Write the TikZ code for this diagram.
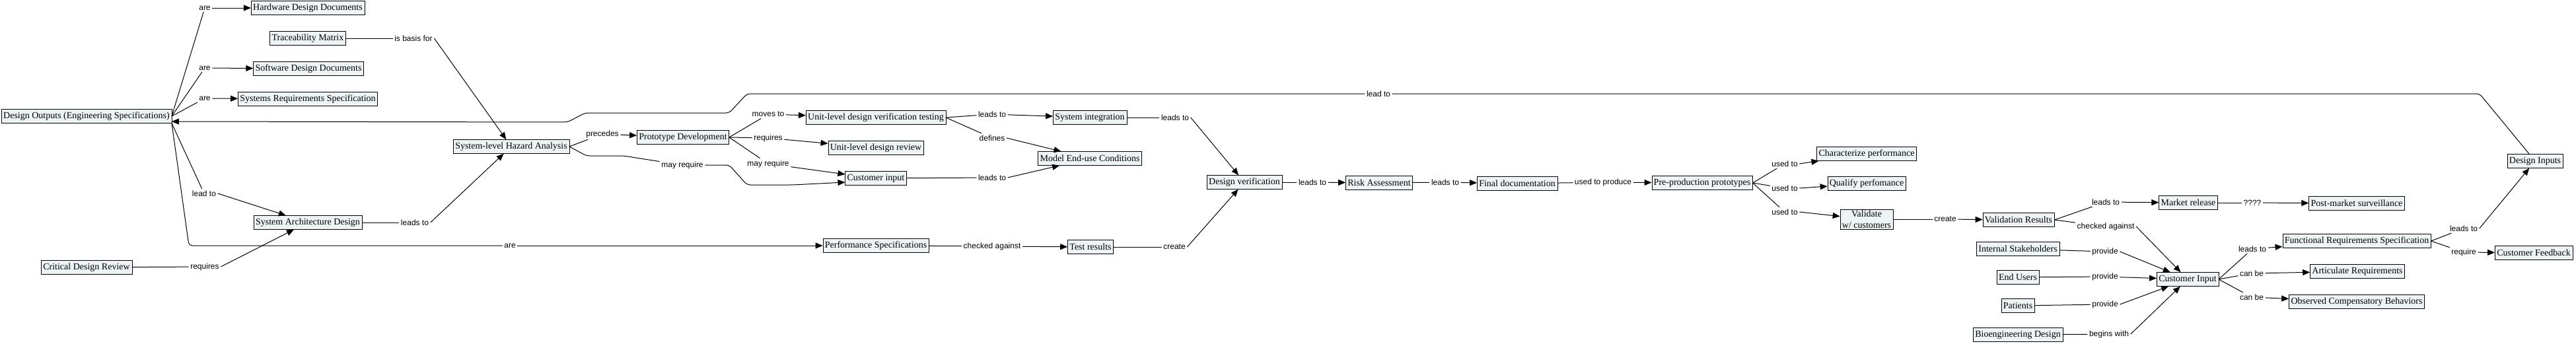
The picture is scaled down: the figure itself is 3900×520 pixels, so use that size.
\documentclass[tikz,border=0pt]{standalone}
\usepackage{fontspec}
\setmainfont{Liberation Serif}
\newfontfamily\linkfont{Liberation Sans}
\usepackage{tikz}
\usetikzlibrary{arrows.meta,positioning,calc}
\definecolor{conceptfill}{RGB}{238,244,246}

\begin{document}
\begin{tikzpicture}[
  x=1pt, y=-1pt,
  concept/.style={draw, rectangle, fill=conceptfill, minimum height=21pt,
                  inner xsep=3pt, inner ysep=2pt, align=center,
                  font=\fontsize{14}{16.5}\selectfont},
  phrase/.style={inner sep=2.5pt, font=\linkfont\fontsize{12}{14}\selectfont},
  tie/.style={line width=1pt},
  rel/.style={-{Triangle[length=11pt,width=9pt]}, line width=1pt},
  bent/.style={rounded corners=5pt}
]
\useasboundingbox (0,0) rectangle (3900,520);

% Concepts
\node[concept] (dout)  at (131,176)  {Design Outputs (Engineering Specifications)};
\node[concept] (hdd)   at (466,12)   {Hardware Design Documents};
\node[concept] (tm)    at (466,58)   {Traceability Matrix};
\node[concept] (sdd)   at (467,104)  {Software Design Documents};
\node[concept] (srs)   at (466,150)  {Systems Requirements Specification};
\node[concept] (sad)   at (466,337)  {System Architecture Design};
\node[concept] (cdr)   at (131,405)  {Critical Design Review};
\node[concept] (sha)   at (774,222)  {System-level Hazard Analysis};
\node[concept] (proto) at (1034,208) {Prototype Development};
\node[concept] (udvt)  at (1326,178) {Unit-level design verification testing};
\node[concept] (udr)   at (1326,224) {Unit-level design review};
\node[concept] (cin)   at (1326,270) {Customer input};
\node[concept] (pspec) at (1326,372) {Performance Specifications};
\node[concept] (sint)  at (1650,178) {System integration};
\node[concept] (meuc)  at (1650,240) {Model End-use Conditions};
\node[concept] (tres)  at (1651,374) {Test results};
\node[concept] (dver)  at (1884,276) {Design verification};
\node[concept] (risk)  at (2088,277) {Risk Assessment};
\node[concept] (fdoc)  at (2297,278) {Final documentation};
\node[concept] (ppp)   at (2577,277) {Pre-production prototypes};
\node[concept] (charp) at (2826,233) {Characterize performance};
\node[concept] (qualp) at (2826,278) {Qualify perfomance};
\node[concept] (valc)  at (2826,332) {Validate\\w/ customers};
\node[concept] (vres)  at (3056,333) {Validation Results};
\node[concept] (intst) at (3055,377) {Internal Stakeholders};
\node[concept] (endu)  at (3055,420) {End Users};
\node[concept] (pat)   at (3055,463) {Patients};
\node[concept] (bioe)  at (3055,507) {Bioengineering Design};
\node[concept] (mrel)  at (3313,307) {Market release};
\node[concept] (pms)   at (3568,308) {Post-market surveillance};
\node[concept] (cinp)  at (3312,423) {Customer Input};
\node[concept] (frs)   at (3568,365) {Functional Requirements Specification};
\node[concept] (artr)  at (3569,411) {Articulate Requirements};
\node[concept] (ocb)   at (3568,457) {Observed Compensatory Behaviors};
\node[concept] (din)   at (3838,244) {Design Inputs};
\node[concept] (cfb)   at (3836,383) {Customer Feedback};

% Linking phrases
\node[phrase] (p1)  at (310,12)   {are};
\node[phrase] (p2)  at (310,103)  {are};
\node[phrase] (p3)  at (310,149)  {are};
\node[phrase] (p4)  at (309,293)  {lead to};
\node[phrase] (p5)  at (310,404)  {requires};
\node[phrase] (p6)  at (772,372)  {are};
\node[phrase] (p7)  at (626,58)   {is basis for};
\node[phrase] (p8)  at (628,337)  {leads to};
\node[phrase] (p9)  at (912,203)  {precedes};
\node[phrase] (p10) at (1033,250) {may require};
\node[phrase] (p11) at (1163,173) {moves to};
\node[phrase] (p12) at (1163,209) {requires};
\node[phrase] (p13) at (1163,248) {may require};
\node[phrase] (p14) at (1502,173) {leads to};
\node[phrase] (p15) at (1502,209) {defines};
\node[phrase] (p16) at (1502,269) {leads to};
\node[phrase] (p17) at (1502,373) {checked against};
\node[phrase] (p18) at (1779,178) {leads to};
\node[phrase] (p19) at (1778,374) {create};
\node[phrase] (p20) at (1987,276) {leads to};
\node[phrase] (p21) at (2188,276) {leads to};
\node[phrase] (p22) at (2427,276) {used to produce};
\node[phrase] (p23) at (2702,248) {used to};
\node[phrase] (p24) at (2702,285) {used to};
\node[phrase] (p25) at (2702,321) {used to};
\node[phrase] (p26) at (2945,332) {create};
\node[phrase] (p27) at (3188,306) {leads to};
\node[phrase] (p28) at (3188,343) {checked against};
\node[phrase] (p29) at (3187,381) {provide};
\node[phrase] (p30) at (3187,419) {provide};
\node[phrase] (p31) at (3187,461) {provide};
\node[phrase] (p32) at (3193,506) {begins with};
\node[phrase] (p33) at (3410,307) {????};
\node[phrase] (p34) at (3410,377) {leads to};
\node[phrase] (p35) at (3409,414) {can be};
\node[phrase] (p36) at (3409,450) {can be};
\node[phrase] (p37) at (3730,346) {leads to};
\node[phrase] (p38) at (3730,382) {require};
\node[phrase] (p39) at (2087,142) {lead to};

% Design outputs
\draw[tie] (dout.east) -- (p1);  \draw[rel] (p1) -- (hdd);
\draw[tie] (dout.east) -- (p2);  \draw[rel] (p2) -- (sdd);
\draw[tie] (dout.east) -- (p3);  \draw[rel] (p3) -- (srs);
\draw[tie] (dout.south east) -- (p4);  \draw[rel] (p4.east) -- (sad);
\draw[tie, bent] (dout.south east) -- (286,372) -- (p6);  \draw[rel] (p6) -- (pspec);
\draw[tie] (cdr) -- (p5);  \draw[rel] (p5.east) -- (sad);

% Hazard analysis and prototypes
\draw[tie] (tm) -- (p7);  \draw[rel] (p7.east) -- (sha);
\draw[tie] (sad) -- (p8);  \draw[rel] (p8.east) -- (sha);
\draw[tie] (sha.east) -- (p9);  \draw[rel] (p9) -- (proto);
\draw[tie, bent] (sha.east) -- (888,236) -- (944,236) -- (p10);
\draw[rel, bent] (p10) -- (1104,250) -- (1131,280) -- (1201,280) -- ($(cin.west)+(0,6)$);
\draw[tie] (proto.east) -- (p11);  \draw[rel] (p11) -- (udvt);
\draw[tie] (proto.east) -- (p12);  \draw[rel] (p12) -- (udr);
\draw[tie] (proto.east) -- (p13);  \draw[rel] (p13) -- ($(cin.west)+(0,-6)$);

% Verification
\draw[tie] (udvt.east) -- (p14);  \draw[rel] (p14) -- (sint);
\draw[tie] (udvt.east) -- (p15);  \draw[rel] (p15.east) -- (meuc);
\draw[tie] (cin) -- (p16);  \draw[rel] (p16.east) -- (meuc);
\draw[tie] (pspec) -- (p17);  \draw[rel] (p17) -- (tres);
\draw[tie] (sint) -- (p18);  \draw[rel] (p18.east) -- (dver);
\draw[tie] (tres) -- (p19);  \draw[rel] (p19.east) -- (dver);
\draw[tie] (dver) -- (p20);  \draw[rel] (p20) -- (risk);
\draw[tie] (risk) -- (p21);  \draw[rel] (p21) -- (fdoc);
\draw[tie] (fdoc) -- (p22);  \draw[rel] (p22) -- (ppp);

% Prototypes and validation
\draw[tie] (ppp.east) -- (p23);  \draw[rel] (p23.east) -- (charp);
\draw[tie] (ppp.east) -- (p24);  \draw[rel] (p24.east) -- (qualp);
\draw[tie] (ppp.east) -- (p25);  \draw[rel] (p25.east) -- (valc);
\draw[tie] (valc) -- (p26);  \draw[rel] (p26) -- (vres);
\draw[tie] (vres.east) -- (p27);  \draw[rel] (p27) -- (mrel);
\draw[tie] (vres.east) -- (p28);  \draw[rel] (p28.east) -- (cinp);
\draw[tie] (mrel) -- (p33);  \draw[rel] (p33) -- (pms);

% Customer input
\draw[tie] (intst) -- (p29);  \draw[rel] (p29.east) -- (cinp);
\draw[tie] (endu) -- (p30);   \draw[rel] (p30) -- (cinp);
\draw[tie] (pat) -- (p31);    \draw[rel] (p31.east) -- (cinp);
\draw[tie] (bioe) -- (p32);   \draw[rel] (p32.east) -- (cinp);
\draw[tie] (cinp.east) -- (p34);  \draw[rel] (p34) -- (frs);
\draw[tie] (cinp.east) -- (p35);  \draw[rel] (p35) -- (artr);
\draw[tie] (cinp.east) -- (p36);  \draw[rel] (p36) -- (ocb);
\draw[tie] (frs.east) -- (p37);  \draw[rel] (p37.east) -- (din);
\draw[tie] (frs.east) -- (p38);  \draw[rel] (p38) -- (cfb);

% Design inputs back to design outputs
\draw[tie, bent] (din) -- (3754,142) -- (p39);
\draw[rel, bent] (p39) -- (1131,142) -- (1104,171) -- (886,171) -- (859,185) -- ($(dout.east)+(0,8)$);

\end{tikzpicture}
\end{document}
